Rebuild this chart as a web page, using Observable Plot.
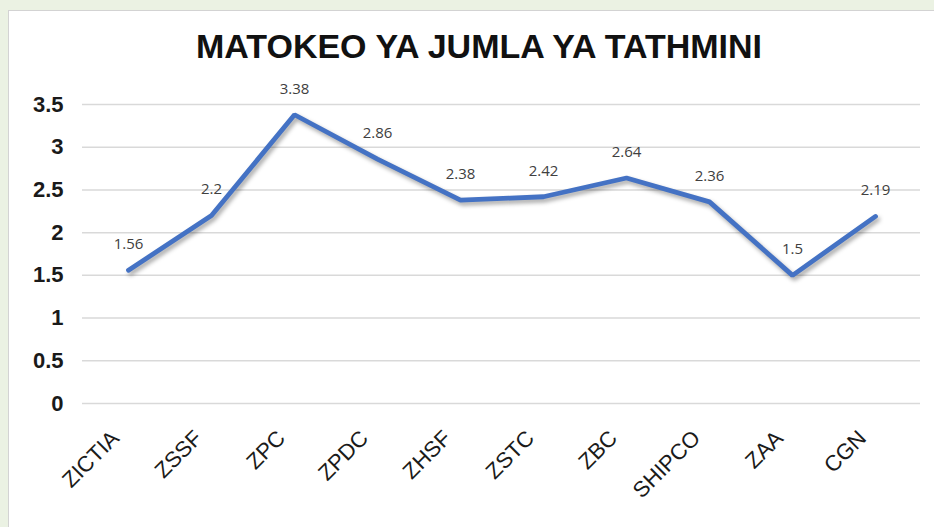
<!DOCTYPE html>
<html><head><meta charset="utf-8">
<script src="https://cdn.jsdelivr.net/npm/d3@7"></script>
<script src="https://cdn.jsdelivr.net/npm/@observablehq/plot@0.6"></script>
<style>
html,body{margin:0;padding:0;background:#ebf2e3;width:934px;height:527px;overflow:hidden;}
#panel{position:absolute;left:8px;top:10px;width:926px;height:517px;background:#fff;border-left:1.5px solid #d3d3d3;border-top:1.5px solid #d3d3d3;box-sizing:border-box;}
#title{position:absolute;left:0;top:27px;width:958px;text-align:center;font:bold 34px "Liberation Sans",Arial,sans-serif;color:#111;}
#chart{position:absolute;left:0;top:70px;}
</style></head><body>
<div id="panel"></div>
<div id="title">MATOKEO YA JUMLA YA TATHMINI</div>
<div id="chart"></div>
<script>
const categories = ["ZICTIA","ZSSF","ZPC","ZPDC","ZHSF","ZSTC","ZBC","SHIPCO","ZAA","CGN"];
const values = [1.56, 2.2, 3.38, 2.86, 2.38, 2.42, 2.64, 2.36, 1.5, 2.19];
const valueLabels = ["1.56","2.2","3.38","2.86","2.38","2.42","2.64","2.36","1.5","2.19"];
const yTicks = [0, 0.5, 1, 1.5, 2, 2.5, 3, 3.5];

const data = categories.map((c, i) => ({cat: c, value: values[i], label: valueLabels[i]}));

const chart = Plot.plot({
  width: 934,
  height: 457,
  marginTop: 34,
  marginBottom: 124,
  marginLeft: 82,
  marginRight: 14,
  style: {background: "transparent", fontFamily: "'Liberation Sans', Arial, sans-serif"},
  x: {type: "point", domain: categories, padding: 0.5, axis: null},
  y: {domain: [0, 3.5], axis: null},
  marks: [
    Plot.gridY(yTicks, {stroke: "#d9d9d9", strokeOpacity: 1, strokeWidth: 1.5}),
    Plot.axisY(yTicks, {tickSize: 0, tickPadding: 19, fontSize: 22, fontWeight: "bold", fill: "#1a1a1a", tickFormat: d => String(d), label: null}),
    Plot.line(data, {x: "cat", y: "value", stroke: "#4472c4", strokeWidth: 4.8, strokeLinejoin: "miter"}),
    Plot.text(data, {x: "cat", y: "value", text: "label", dy: -26, fontSize: 15, fill: "#404040", fontFamily: "'Open Sans', sans-serif"}),
    Plot.text(categories, {x: d => d, frameAnchor: "bottom", text: d => d, rotate: -45, textAnchor: "end", dy: 36, dx: -8, fontSize: 22, fill: "#1a1a1a"})
  ]
});
document.getElementById("chart").appendChild(chart);
const lineG = chart.querySelector('g[aria-label="line"]');
if (lineG) lineG.style.filter = "drop-shadow(2px 3px 2px rgba(0,0,0,0.35))";
</script>
</body></html>
